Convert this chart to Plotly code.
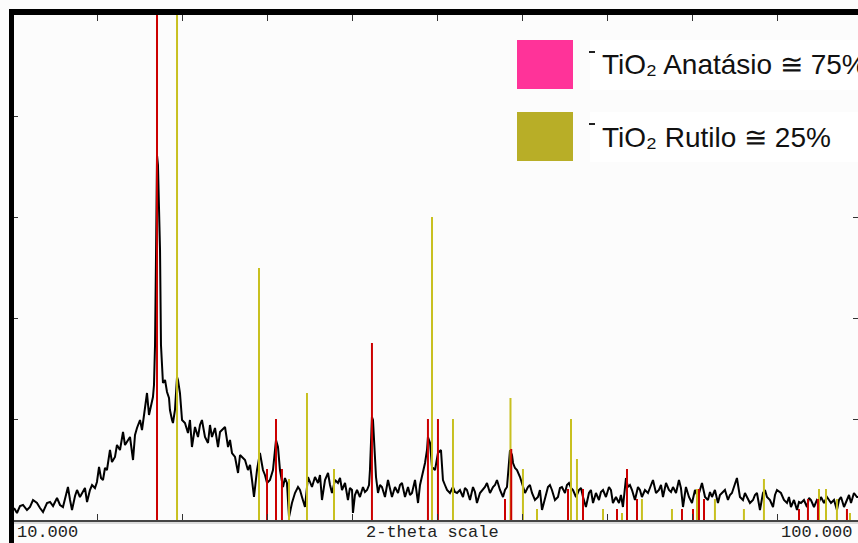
import plotly.graph_objects as go

# ---- measured XRD pattern (2-theta in degrees, intensity in arbitrary counts) ----
two_theta = [10.11, 10.42, 10.74, 11.06, 11.48, 11.80, 12.12, 12.54, 12.86, 13.18, 13.60, 13.92, 14.24, 14.66, 14.98,
             15.29, 15.61, 15.82, 16.04, 16.25, 16.57, 16.78, 17.09, 17.31, 17.62, 17.84, 18.15, 18.37, 18.68, 18.89,
             19.11, 19.32, 19.53, 19.74, 19.95, 20.27, 20.48, 20.80, 21.01, 21.33, 21.54, 21.65, 21.86, 22.07, 22.39,
             22.71, 22.92, 23.13, 23.45, 23.66, 23.77, 23.98, 24.19, 24.40, 24.51, 24.72, 24.82, 24.93, 25.04, 25.14,
             25.25, 25.35, 25.46, 25.57, 25.67, 25.78, 25.88, 26.10, 26.31, 26.52, 26.62, 26.84, 26.94, 27.15, 27.26,
             27.37, 27.47, 27.68, 27.90, 28.21, 28.53, 28.74, 28.95, 29.27, 29.59, 29.80, 30.01, 30.33, 30.65, 30.86,
             31.07, 31.39, 31.71, 31.92, 32.13, 32.45, 32.77, 32.98, 33.19, 33.51, 33.83, 34.04, 34.25, 34.57, 34.88,
             35.10, 35.31, 35.52, 35.84, 36.15, 36.47, 36.68, 36.90, 37.21, 37.53, 37.74, 37.85, 38.06, 38.27, 38.59,
             38.80, 39.01, 39.23, 39.54, 39.86, 40.18, 40.39, 40.60, 40.92, 41.24, 41.45, 41.66, 41.98, 42.30, 42.51,
             42.72, 43.04, 43.36, 43.57, 43.78, 44.10, 44.41, 44.63, 44.84, 45.16, 45.47, 45.68, 45.90, 46.00, 46.21,
             46.43, 46.74, 47.06, 47.27, 47.49, 47.70, 47.80, 47.91, 48.01, 48.12, 48.23, 48.44, 48.65, 48.86, 49.07,
             49.39, 49.71, 49.92, 50.13, 50.45, 50.77, 50.98, 51.19, 51.51, 51.83, 52.04, 52.25, 52.57, 52.89, 53.10,
             53.31, 53.63, 53.84, 53.94, 54.16, 54.37, 54.69, 54.90, 55.00, 55.32, 55.53, 55.74, 55.96, 56.27, 56.59,
             56.80, 57.02, 57.33, 57.65, 57.86, 58.07, 58.39, 58.71, 58.92, 59.13, 59.45, 59.77, 59.98, 60.19, 60.51,
             60.83, 61.04, 61.25, 61.57, 61.89, 62.10, 62.31, 62.52, 62.63, 62.84, 62.95, 63.16, 63.37, 63.69, 63.90,
             64.22, 64.53, 64.74, 64.96, 65.27, 65.59, 65.80, 66.02, 66.33, 66.65, 66.86, 67.07, 67.39, 67.71, 67.92,
             68.13, 68.45, 68.66, 68.87, 69.09, 69.30, 69.62, 69.93, 70.15, 70.36, 70.67, 70.99, 71.20, 71.42, 71.73,
             72.05, 72.26, 72.48, 72.79, 73.11, 73.32, 73.53, 73.85, 74.17, 74.38, 74.59, 74.80, 74.91, 75.12, 75.33,
             75.55, 75.86, 76.18, 76.39, 76.60, 76.92, 77.24, 77.45, 77.77, 78.09, 78.40, 78.62, 78.83, 79.15, 79.46,
             79.68, 79.89, 80.21, 80.52, 80.73, 80.95, 81.26, 81.58, 81.90, 82.22, 82.53, 82.75, 82.96, 83.28, 83.59,
             83.81, 84.02, 84.33, 84.65, 84.86, 85.08, 85.39, 85.71, 85.92, 86.13, 86.45, 86.66, 86.98, 87.30, 87.51,
             87.72, 88.04, 88.36, 88.57, 88.78, 89.10, 89.42, 89.63, 89.84, 90.16, 90.48, 90.69, 90.90, 91.32, 91.64,
             91.96, 92.17, 92.38, 92.70, 93.02, 93.23, 93.44, 93.76, 94.08, 94.29, 94.50, 94.82, 95.13, 95.35, 95.56,
             95.88, 96.19, 96.41, 96.62, 96.94, 97.25, 97.47, 97.68, 98.00, 98.31, 98.53, 98.74, 99.05, 99.37, 99.48]

counts = [12, 7, 14, 15, 10, 13, 20, 17, 12, 8, 17, 18, 14, 22, 15,
          13, 25, 33, 20, 10, 24, 30, 23, 27, 32, 18, 30, 35, 32, 38,
          53, 42, 40, 52, 50, 70, 58, 63, 75, 70, 80, 88, 75, 78, 83,
          60, 85, 92, 100, 90, 97, 115, 127, 105, 110, 120, 123, 135, 175, 260,
          365, 355, 305, 270, 175, 150, 137, 140, 128, 122, 110, 100, 97, 110, 125,
          143, 140, 127, 100, 97, 87, 100, 73, 93, 83, 95, 100, 83, 77, 95,
          83, 92, 73, 88, 90, 93, 73, 80, 67, 63, 47, 65, 63, 60, 50,
          55, 40, 23, 50, 67, 50, 45, 37, 40, 50, 72, 80, 73, 50, 33,
          42, 37, 3, 17, 27, 33, 30, 23, 13, 43, 38, 33, 43, 37, 45,
          20, 40, 47, 35, 27, 40, 37, 42, 30, 37, 20, 32, 30, 7, 25,
          30, 23, 33, 28, 30, 35, 50, 80, 103, 100, 83, 43, 27, 35, 33,
          23, 40, 30, 23, 33, 27, 35, 37, 23, 33, 25, 27, 40, 17, 35,
          43, 57, 70, 83, 77, 53, 50, 60, 67, 70, 40, 35, 30, 27, 33,
          28, 27, 30, 23, 32, 30, 20, 33, 28, 17, 27, 30, 33, 37, 27,
          33, 35, 40, 30, 23, 30, 33, 55, 70, 65, 57, 52, 50, 43, 37,
          27, 33, 35, 27, 20, 23, 30, 10, 23, 33, 35, 30, 20, 23, 32,
          33, 27, 35, 37, 32, 30, 23, 30, 32, 23, 13, 27, 30, 17, 27,
          20, 28, 30, 23, 33, 30, 17, 23, 17, 25, 13, 37, 42, 33, 35,
          30, 20, 33, 30, 23, 30, 27, 32, 40, 27, 30, 35, 23, 37, 30,
          28, 33, 27, 40, 32, 13, 33, 23, 17, 30, 23, 30, 37, 23, 20,
          28, 23, 30, 17, 25, 27, 30, 20, 25, 27, 35, 42, 23, 20, 27,
          23, 17, 20, 25, 27, 10, 27, 30, 23, 20, 13, 25, 30, 27, 20,
          17, 23, 13, 20, 10, 18, 17, 20, 13, 22, 20, 13, 20, 18, 23,
          17, 23, 20, 17, 20, 10, 20, 23, 13, 20, 25, 17, 27, 23, 23]

# ---- reference patterns (stick positions and relative heights) ----
anatase_pos = [25.25, 36.90, 37.85, 38.48, 48.01, 53.94, 55.00, 62.10, 62.76, 68.77, 70.36, 73.96,
               75.02, 76.08, 80.84, 82.01, 82.64, 83.17, 93.23, 94.18, 95.24, 98.31]
anatase_int = [600, 51, 101, 51, 177, 101, 101, 21, 71, 31, 31, 11,
               51, 21, 11, 11, 31, 21, 11, 21, 21, 11]

rutile_pos = [27.37, 36.05, 39.23, 41.13, 43.99, 54.37, 56.59, 62.68, 64.00, 65.49, 69.09, 69.72,
              72.48, 74.49, 76.60, 79.78, 82.43, 84.33, 87.40, 89.52, 95.35, 96.09, 97.25, 98.63]
rutile_int = [600, 252, 41, 127, 51, 303, 101, 122, 51, 11, 101, 61,
              11, 7, 21, 11, 31, 21, 11, 41, 31, 31, 21, 7]

legend_labels = ["TiO₂ Anatásio ≅ 75%", "TiO₂ Rutilo ≅ 25%"]
legend_colors = ["#FF3399", "#B8AE27"]
x_left_label = "10.000"
x_right_label = "100.000"
x_title = "2-theta scale"


def sticks(pos, hgt):
    xs, ys = [], []
    for p, h in zip(pos, hgt):
        xs += [p, p, None]
        ys += [0, h, None]
    return xs, ys


fig = go.Figure()
fig.add_trace(go.Scatter(x=two_theta, y=counts, mode="lines",
                         line=dict(color="#000000", width=2), hoverinfo="skip"))
rx, ry = sticks(rutile_pos, rutile_int)
fig.add_trace(go.Scatter(x=rx, y=ry, mode="lines", line=dict(color="#C8C020", width=2), hoverinfo="skip"))
ax, ay = sticks(anatase_pos, anatase_int)
fig.add_trace(go.Scatter(x=ax, y=ay, mode="lines", line=dict(color="#CC0000", width=2), hoverinfo="skip"))

W, H = 858, 543
L, R, T, B = 13, 0, 15, 23
pw, ph = W - L - R, H - T - B


def px(x):
    return (x - L) / pw


def py(y):
    return (H - B - y) / ph


shapes = []
# frame: thick left and top bars, thin bottom line
shapes.append(dict(type="rect", xref="paper", yref="paper", x0=px(9), x1=px(14), y0=py(543), y1=py(9),
                   fillcolor="#000000", line=dict(width=0), layer="above"))
shapes.append(dict(type="rect", xref="paper", yref="paper", x0=px(9), x1=px(858), y0=py(15), y1=py(9),
                   fillcolor="#000000", line=dict(width=0), layer="above"))
shapes.append(dict(type="line", xref="paper", yref="paper", x0=px(14), x1=px(858), y0=py(521), y1=py(521),
                   line=dict(color="#444444", width=2), layer="above"))
shapes.append(dict(type="line", xref="paper", yref="paper", x0=px(14), x1=px(858), y0=py(523), y1=py(523),
                   line=dict(color="#BBBBBB", width=1), layer="above"))

annotations = []
box_tops = [40, 112]
for i, (lab, col) in enumerate(zip(legend_labels, legend_colors)):
    t = box_tops[i]
    shapes.append(dict(type="rect", xref="paper", yref="paper", x0=px(590), x1=px(858), y0=py(t + 50), y1=py(t),
                       fillcolor="#FFFFFF", line=dict(width=0), layer="above"))
    shapes.append(dict(type="rect", xref="paper", yref="paper", x0=px(517), x1=px(573), y0=py(t + 49), y1=py(t),
                       fillcolor=col, line=dict(width=0), layer="above"))
    shapes.append(dict(type="line", xref="paper", yref="paper", x0=px(589), x1=px(595), y0=py(t + 12), y1=py(t + 12),
                       line=dict(color="#222222", width=2), layer="above"))
    annotations.append(dict(xref="paper", yref="paper", x=px(600), y=py(t + 25), xanchor="left", yanchor="middle",
                            text=lab, showarrow=False,
                            font=dict(family="Liberation Sans, Arial, sans-serif", size=28, color="#111111")))

mono = dict(family="Liberation Mono, DejaVu Sans Mono, monospace", size=17, color="#222222")
annotations.append(dict(xref="paper", yref="paper", x=px(15), y=py(532), xanchor="left", yanchor="middle",
                        text=x_left_label, showarrow=False, font=mono))
annotations.append(dict(xref="paper", yref="paper", x=px(432), y=py(532), xanchor="center", yanchor="middle",
                        text=x_title, showarrow=False, font=mono))
annotations.append(dict(xref="paper", yref="paper", x=px(854), y=py(532), xanchor="right", yanchor="middle",
                        text=x_right_label, showarrow=False, font=mono))

fig.update_layout(
    width=W, height=H,
    margin=dict(l=L, r=R, t=T, b=B, pad=0),
    paper_bgcolor="#FCFCFC", plot_bgcolor="#FCFCFC",
    showlegend=False,
    shapes=shapes, annotations=annotations,
    xaxis=dict(range=[10, 99.48], tick0=10, dtick=9, ticks="inside", ticklen=6, tickwidth=1,
               tickcolor="#333333", mirror="ticks", showline=False, showgrid=False, zeroline=False,
               showticklabels=False, fixedrange=True),
    yaxis=dict(range=[0, 505], tick0=0, dtick=101, ticks="inside", ticklen=5, tickwidth=1,
               tickcolor="#333333", mirror="ticks", showline=False, showgrid=False, zeroline=False,
               showticklabels=False, fixedrange=True),
)

fig.write_html("out.html", config={"displayModeBar": False},
               post_script="document.body.style.margin='0';document.body.style.overflow='hidden';")
